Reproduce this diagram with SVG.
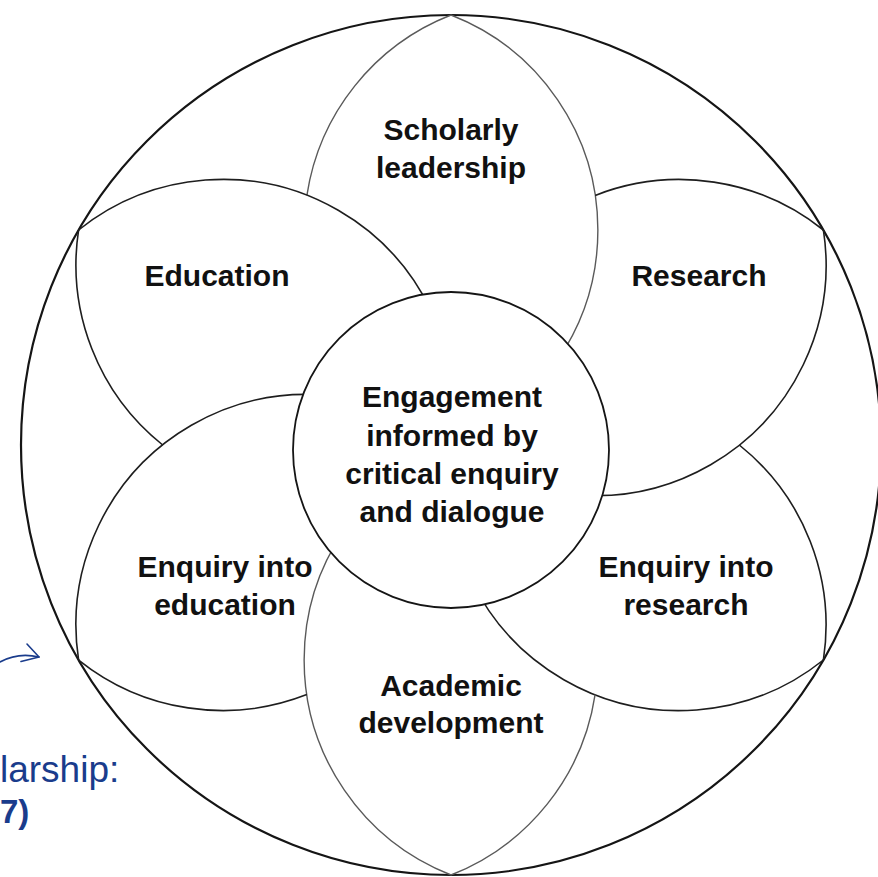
<svg xmlns="http://www.w3.org/2000/svg" width="878" height="877" viewBox="0 0 878 877">
<defs>
<style>
.bg{fill:#ffffff}
.outer{fill:#ffffff;stroke:#151515;stroke-width:2.2}
.arc{fill:none;stroke:#1e1e1e;stroke-width:1.6}
.arcg{fill:none;stroke:#5a5a5a;stroke-width:1.4}
.inner{fill:#ffffff;stroke:#151515;stroke-width:1.8}
.lbl{font-family:"Liberation Sans",Arial,Helvetica,sans-serif;font-weight:bold;font-size:30px;fill:#111111;text-anchor:middle}
.blue{font-family:"Liberation Sans",Arial,Helvetica,sans-serif;fill:#1a3c8c}
.arrow{fill:none;stroke:#1a3c8c;stroke-width:1.6;stroke-linecap:round;stroke-linejoin:round}
</style>
</defs>
<rect class="bg" x="0" y="0" width="878" height="877"/>
<circle id="outer-circle" class="outer" cx="451" cy="445" r="430"/>

<g id="petal-scholarly-leadership">
<path class="arcg" d="M451 15 A230.8 230.8 0 0 1 451 445"/>
<path class="arcg" d="M451 15 A230.8 230.8 0 0 0 306.9 195.3"/>
</g>
<g id="petal-research">
<path class="arc" d="M823.4 230 A230.8 230.8 0 0 1 451 445"/>
<path class="arc" d="M823.4 230 A230.8 230.8 0 0 0 595.2 195.4"/>
</g>
<g id="petal-enquiry-into-research">
<path class="arc" d="M823.4 660 A230.8 230.8 0 0 1 451 445"/>
<path class="arc" d="M823.4 660 A230.8 230.8 0 0 0 739.3 445"/>
</g>
<g id="petal-academic-development">
<path class="arcg" d="M451 875 A230.8 230.8 0 0 1 451 445"/>
<path class="arcg" d="M451 875 A230.8 230.8 0 0 0 595.1 694.7"/>
</g>
<g id="petal-enquiry-into-education">
<path class="arc" d="M78.6 660 A230.8 230.8 0 0 1 451 445"/>
<path class="arc" d="M78.6 660 A230.8 230.8 0 0 0 306.8 694.6"/>
</g>
<g id="petal-education">
<path class="arc" d="M78.6 230 A230.8 230.8 0 0 1 451 445"/>
<path class="arc" d="M78.6 230 A230.8 230.8 0 0 0 162.7 445"/>
</g>

<g id="center">
<circle class="inner" cx="451" cy="450" r="158"/>
<text class="lbl" x="452" y="407">Engagement</text>
<text class="lbl" x="452" y="446">informed by</text>
<text class="lbl" x="452" y="484">critical enquiry</text>
<text class="lbl" x="452" y="522">and dialogue</text>
</g>

<g id="labels">
<text class="lbl" x="451" y="140">Scholarly</text>
<text class="lbl" x="451" y="178">leadership</text>
<text class="lbl" x="217" y="286">Education</text>
<text class="lbl" x="699" y="286">Research</text>
<text class="lbl" x="225" y="577">Enquiry into</text>
<text class="lbl" x="225" y="615">education</text>
<text class="lbl" x="686" y="577">Enquiry into</text>
<text class="lbl" x="686" y="615">research</text>
<text class="lbl" x="451" y="696">Academic</text>
<text class="lbl" x="451" y="733">development</text>
</g>

<g id="connectors">
<path class="arrow" d="M0 662 Q18 652 39 657"/>
<path class="arrow" d="M27 644 L39 657 L21 661.5"/>
</g>

<g id="overlay-text">
<text class="blue" x="0" y="782" font-size="37">larship:</text>
<text class="blue" x="0" y="823" font-size="33" font-weight="bold">7)</text>
</g>
</svg>
